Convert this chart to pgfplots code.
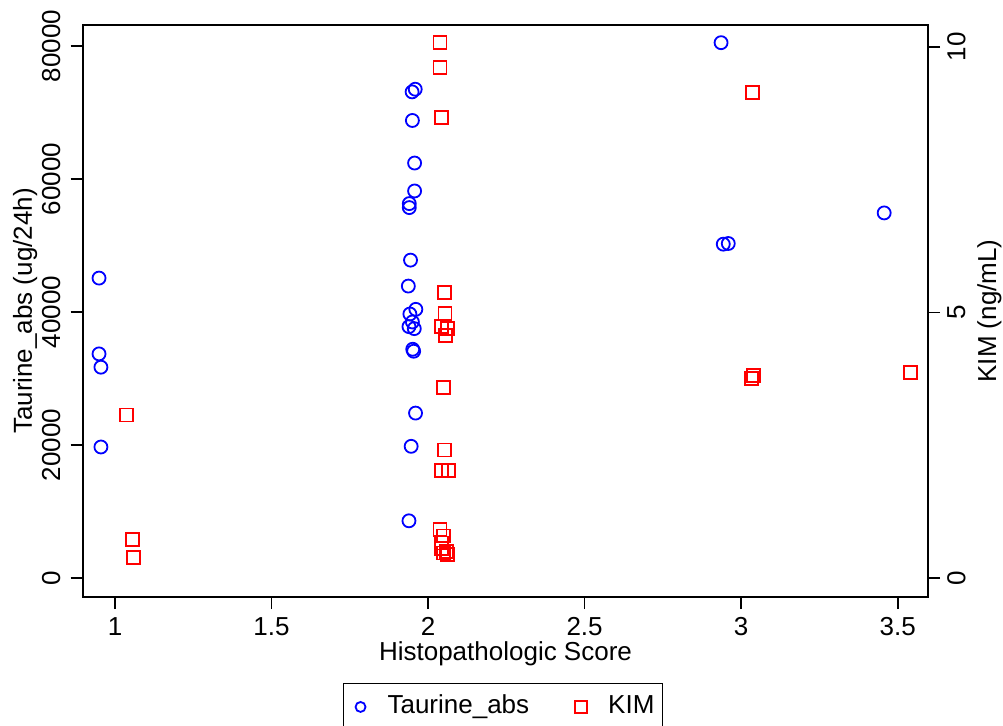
\documentclass[border=0pt]{standalone}
\usepackage{fontspec}
\setmainfont{Liberation Sans}
\usepackage{pgfplots}
\pgfplotsset{compat=1.18}
\definecolor{pblue}{RGB}{0,0,255}
\definecolor{pred}{RGB}{255,0,0}
\pgfplotstableread{
x y
0.949 45100
0.949 33700
0.955 31700
0.955 19700
1.949 73100
1.959 73500
1.950 68800
1.957 62400
1.957 58200
1.940 56300
1.940 55700
1.944 47800
1.937 43900
1.961 40400
1.942 39700
1.950 38500
1.939 37800
1.956 37500
1.951 34400
1.954 34100
1.960 24800
1.946 19800
1.939 8600
2.936 80500
2.943 50200
2.959 50300
3.457 54900
}\taurine
\pgfplotstableread{
x y
1.037 3.07
1.057 0.72
1.058 0.39
2.038 10.08
2.038 9.62
2.044 8.67
2.052 5.38
2.054 4.98
2.043 4.74
2.062 4.70
2.055 4.57
2.049 3.58
2.052 2.41
2.044 2.03
2.065 2.03
2.038 0.91
2.050 0.79
2.042 0.66
2.043 0.55
2.058 0.50
2.050 0.47
2.062 0.45
3.036 9.14
3.039 3.82
3.034 3.76
3.542 3.87
}\kim
\begin{document}
\begin{tikzpicture}[font=\fontsize{26bp}{31bp}\selectfont]
\useasboundingbox (-82.7bp,-129bp) rectangle (920.3bp,597bp);
\pgfplotsset{
  common/.style={
    at={(0,0)}, anchor=south west,
    scale only axis, width=845.3bp, height=572bp,
    xmin=0.8968, xmax=3.597,
    tick align=outside, major tick length=12bp,
    every tick/.style={black, line width=1.8bp},
    axis line style={line width=1.8bp},
    /pgf/number format/assume math mode=true,
    /pgf/number format/set thousands separator={},
    tick label style={font=\fontsize{26bp}{31bp}\selectfont},
    label style={font=\fontsize{26bp}{31bp}\selectfont},
    clip=false,
  }
}
\begin{axis}[common,
  ymin=-2857, ymax=83158,
  xtick={1,1.5,2,2.5,3,3.5}, ytick={0,20000,40000,60000,80000},
  xtick pos=bottom, ytick pos=left,
  scaled y ticks=false,
  yticklabel style={rotate=90, anchor=south, inner sep=0pt},
  yticklabel shift=10bp,
  xticklabel style={anchor=north, inner sep=0pt},
  xticklabel shift=8.5bp,
  xlabel={Histopathologic Score},
  xlabel style={at={(axis description cs:0.5002,0)}, anchor=north, inner sep=0pt, yshift=-44bp},
  ylabel={Taurine\_abs (ug/24h)},
  ylabel style={at={(axis description cs:-0.0535,0.5)}, anchor=south, inner sep=0pt},
  legend columns=2,
  legend style={at={(axis description cs:0.4972,0)}, yshift=-85.7bp, anchor=north,
    draw=black, line width=1.5bp, inner xsep=8bp, inner ysep=11bp,
    nodes={inner sep=0pt, text height=19bp, text depth=8bp},
    /tikz/every even column/.append style={column sep=43bp}},
]
\addplot[forget plot, only marks, mark=o, mark size=6.5bp, line width=1.8bp, color=pblue] table[x=x,y=y] {\taurine};
\addlegendimage{legend image code/.code={\path[draw=none,fill=none] (0bp,0bp) rectangle (36bp,1bp); \draw[pblue, line width=1.8bp] plot[mark=o, mark size=5bp] coordinates {(9bp,1bp)};}}
\addlegendentry{Taurine\_abs}
\addlegendimage{legend image code/.code={\path[draw=none,fill=none] (0bp,0bp) rectangle (36bp,1bp); \draw[pred, line width=1.8bp] plot[mark=square, mark size=6bp] coordinates {(9bp,1bp)};}}
\addlegendentry{KIM}
\end{axis}
\begin{axis}[common,
  ymin=-0.3578, ymax=10.414,
  axis x line=none, axis y line*=right,
  ytick={0,5,10}, ytick pos=right,
  yticklabel style={rotate=90, anchor=north, inner sep=0pt},
  yticklabel shift=7bp,
  ylabel={KIM (ng/mL)},
  ylabel style={at={(axis description cs:1.058,0.5)}, anchor=north, inner sep=0pt, rotate=0},
]
\addplot[only marks, mark=square, mark size=6.5bp, line width=1.8bp, color=pred] table[x=x,y=y] {\kim};
\end{axis}
\end{tikzpicture}
\end{document}
